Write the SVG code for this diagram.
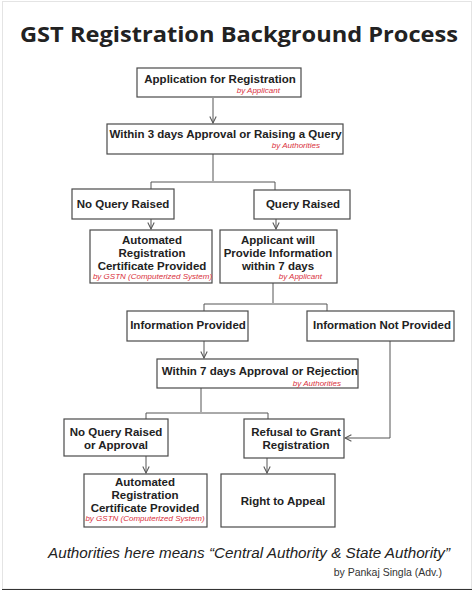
<svg xmlns="http://www.w3.org/2000/svg" width="474" height="591" viewBox="0 0 474 591">
<defs>
<style>
.box{fill:#fff;stroke:#4a4a4a;stroke-width:1.2}
.t{font-family:"Liberation Sans",Arial,sans-serif;font-weight:700;font-size:11.5px;fill:#222;text-anchor:middle}
.r{font-family:"Liberation Sans",Arial,sans-serif;font-style:italic;font-size:8px;fill:#d9303c}
.c{fill:none;stroke:#555;stroke-width:1}
</style>
<marker id="ah" viewBox="0 0 10 10" refX="9" refY="5" markerWidth="8" markerHeight="8" markerUnits="userSpaceOnUse" orient="auto">
<path d="M1,1 L9,5 L1,9" fill="none" stroke="#555" stroke-width="1.3"/>
</marker>
</defs>
<rect x="0" y="0" width="474" height="591" fill="#fff"/>
<rect x="2.5" y="1.5" width="469" height="587.5" fill="none" stroke="#e4e4e4" stroke-width="1"/>
<line x1="2" y1="589.5" x2="472" y2="589.5" stroke="#333" stroke-width="1.2"/>
<text x="239" y="42" font-family="'Open Sans','DejaVu Sans',sans-serif" font-weight="700" font-size="22" fill="#222" text-anchor="middle" textLength="438" lengthAdjust="spacingAndGlyphs">GST Registration Background Process</text>

<g id="connectors">
<path class="c" d="M213,98 V123" marker-end="url(#ah)"/>
<path class="c" d="M213,154 V181"/>
<path class="c" d="M151,189 V182 H275 V190"/>
<path class="c" d="M151,219 V229" marker-end="url(#ah)"/>
<path class="c" d="M276,219 V229" marker-end="url(#ah)"/>
<path class="c" d="M273,283 V303"/>
<path class="c" d="M204,311 V304 H327 V311"/>
<path class="c" d="M204,341 V358" marker-end="url(#ah)"/>
<path class="c" d="M201,388 V412"/>
<path class="c" d="M146,419 V413 H268 V419"/>
<path class="c" d="M146,456 V473" marker-end="url(#ah)"/>
<path class="c" d="M267,458 V473" marker-end="url(#ah)"/>
<path class="c" d="M390,341 V438 H345" marker-end="url(#ah)"/>
</g>

<g id="n1">
<rect class="box" x="137" y="68" width="164" height="29"/>
<text class="t" x="220" y="83">Application for Registration</text>
<text class="r" x="280" y="93" text-anchor="end">by Applicant</text>
</g>
<g id="n2">
<rect class="box" x="107" y="124" width="236" height="30"/>
<text class="t" x="225.5" y="138">Within 3 days Approval or Raising a Query</text>
<text class="r" x="320" y="148" text-anchor="end">by Authorities</text>
</g>
<g id="n3">
<rect class="box" x="72" y="189" width="102" height="30"/>
<text class="t" x="123" y="208">No Query Raised</text>
</g>
<g id="n4">
<rect class="box" x="254" y="190" width="96" height="29"/>
<text class="t" x="303" y="208">Query Raised</text>
</g>
<g id="n5">
<rect class="box" x="90" y="230" width="122" height="53"/>
<text class="t" x="152" y="244">Automated</text>
<text class="t" x="152" y="257">Registration</text>
<text class="t" x="152" y="270">Certificate Provided</text>
<text class="r" x="152.5" y="279" text-anchor="middle" font-size="7">by GSTN (Computerized System)</text>
</g>
<g id="n6">
<rect class="box" x="220" y="230" width="117" height="53"/>
<text class="t" x="278" y="244">Applicant will</text>
<text class="t" x="278" y="257">Provide Information</text>
<text class="t" x="278" y="270">within 7 days</text>
<text class="r" x="322" y="279" text-anchor="end">by Applicant</text>
</g>
<g id="n7">
<rect class="box" x="127" y="311" width="121" height="30"/>
<text class="t" x="188" y="329">Information Provided</text>
</g>
<g id="n8">
<rect class="box" x="307" y="311" width="147" height="30"/>
<text class="t" x="382" y="329">Information Not Provided</text>
</g>
<g id="n9">
<rect class="box" x="157" y="359" width="201" height="29"/>
<text class="t" x="260" y="375">Within 7 days Approval or Rejection</text>
<text class="r" x="341" y="386" text-anchor="end">by Authorities</text>
</g>
<g id="n10">
<rect class="box" x="64" y="419" width="104" height="37"/>
<text class="t" x="116" y="436">No Query Raised</text>
<text class="t" x="116" y="449">or Approval</text>
</g>
<g id="n11">
<rect class="box" x="244" y="419" width="100" height="39"/>
<text class="t" x="296" y="436">Refusal to Grant</text>
<text class="t" x="296" y="449">Registration</text>
</g>
<g id="n12">
<rect class="box" x="84" y="474" width="123" height="53"/>
<text class="t" x="145" y="486">Automated</text>
<text class="t" x="145" y="499">Registration</text>
<text class="t" x="145" y="512">Certificate Provided</text>
<text class="r" x="145" y="521" text-anchor="middle" font-size="7">by GSTN (Computerized System)</text>
</g>
<g id="n13">
<rect class="box" x="221" y="474" width="114" height="53"/>
<text class="t" x="283" y="505">Right to Appeal</text>
</g>

<text x="48" y="558" font-family="'Liberation Sans',Arial,sans-serif" font-style="italic" font-size="15" fill="#222" textLength="402" lengthAdjust="spacingAndGlyphs">Authorities here means “Central Authority &amp; State Authority”</text>
<text x="442" y="576" font-family="'Liberation Sans',Arial,sans-serif" font-size="10.5" fill="#333" text-anchor="end">by Pankaj Singla (Adv.)</text>
</svg>
